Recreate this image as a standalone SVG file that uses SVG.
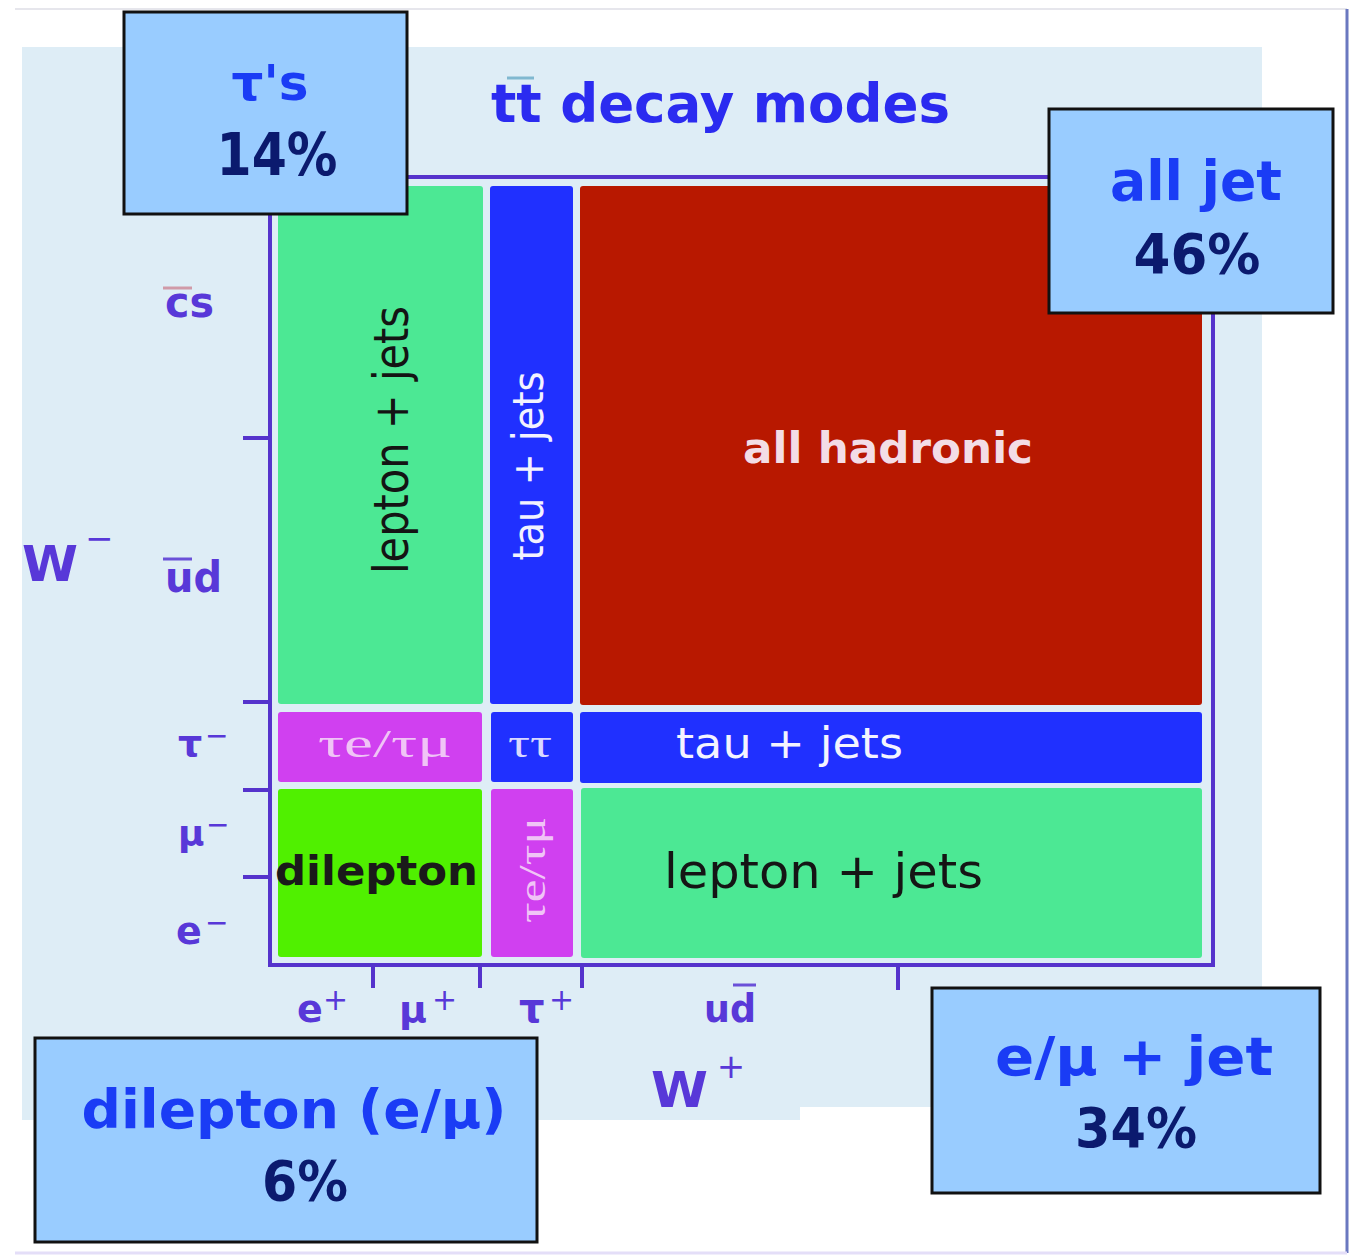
<svg xmlns="http://www.w3.org/2000/svg" width="1353" height="1255" viewBox="0 0 1353 1255">
<style>
.ax{font-family:"DejaVu Sans","Liberation Sans",sans-serif;font-weight:bold;fill:#5838d8}
.axn{font-family:"DejaVu Sans","Liberation Sans",sans-serif;font-weight:normal;fill:#5838d8}
.bx{fill:#99ccff;stroke:#111;stroke-width:3}
.bt{font-family:"DejaVu Sans","Liberation Sans",sans-serif;font-weight:bold;fill:#1a3cf5;text-anchor:middle}
.bp{font-family:"DejaVu Sans","Liberation Sans",sans-serif;font-weight:bold;fill:#0b1a6e;text-anchor:middle}
.cell{font-family:"DejaVu Sans","Liberation Sans",sans-serif}
.sym{font-family:"Liberation Serif","DejaVu Serif",serif}
.tick{stroke:#5533cc;stroke-width:4}
</style>
<rect width="1353" height="1255" fill="#ffffff"/>
<line x1="15" y1="9" x2="1347" y2="9" stroke="#e6e6ec" stroke-width="2"/>
<line x1="1347" y1="9" x2="1347" y2="1253" stroke="#6a78c0" stroke-width="3"/>
<line x1="15" y1="1253" x2="1347" y2="1253" stroke="#e4def8" stroke-width="3"/>
<g id="panel">
<rect x="22" y="47" width="1240" height="1060" fill="#deedf6"/>
<rect x="22" y="1107" width="778" height="13" fill="#deedf6"/>
</g>
<g id="title">
<text x="491" y="122" font-family="DejaVu Sans,Liberation Sans,sans-serif" font-weight="bold" font-size="54" fill="#2b2bf0" textLength="459" lengthAdjust="spacingAndGlyphs">tt decay modes</text>
<line x1="507" y1="78" x2="534" y2="78" stroke="#80b8d0" stroke-width="3"/>
</g>
<g id="frame">
<rect x="270" y="177" width="943" height="788" fill="none" stroke="#5533cc" stroke-width="4"/>
</g>
<g id="connectors">
<line class="tick" x1="243" y1="438" x2="270" y2="438"/>
<line class="tick" x1="243" y1="702" x2="270" y2="702"/>
<line class="tick" x1="243" y1="790" x2="270" y2="790"/>
<line class="tick" x1="243" y1="877" x2="270" y2="877"/>
<line class="tick" x1="373" y1="965" x2="373" y2="988"/>
<line class="tick" x1="480" y1="965" x2="480" y2="988"/>
<line class="tick" x1="582" y1="965" x2="582" y2="988"/>
<line class="tick" x1="898" y1="965" x2="898" y2="990"/>
</g>
<g id="cell-lepton-jets-v">
<rect x="278" y="186" width="205" height="518" rx="3" fill="#4ce894"/>
<text class="cell" transform="rotate(-90 408 440)" x="408" y="440" text-anchor="middle" font-size="48" fill="#141414" textLength="268" lengthAdjust="spacingAndGlyphs">lepton + jets</text>
</g>
<g id="cell-tau-jets-v">
<rect x="490" y="186" width="83" height="518" rx="3" fill="#2030ff"/>
<text class="cell" transform="rotate(-90 543 466)" x="543" y="466" text-anchor="middle" font-size="42" fill="#f2f2ff" textLength="189" lengthAdjust="spacingAndGlyphs">tau + jets</text>
</g>
<g id="cell-all-hadronic">
<rect x="580" y="186" width="622" height="519" rx="3" fill="#b81800"/>
<text class="cell" x="888" y="463" text-anchor="middle" font-size="43" font-weight="bold" fill="#f3dde6" textLength="290" lengthAdjust="spacingAndGlyphs">all hadronic</text>
</g>
<g id="cell-tau-e-mu-h">
<rect x="278" y="712" width="204" height="70" rx="3" fill="#d040f0"/>
<text class="sym" x="318" y="757" font-size="40" fill="#f0c4f6" textLength="134" lengthAdjust="spacingAndGlyphs">τe/τμ</text>
</g>
<g id="cell-tau-tau">
<rect x="491" y="712" width="82" height="70" rx="3" fill="#2030ff"/>
<text class="sym" x="508" y="757" font-size="40" fill="#d8d8ff" textLength="44" lengthAdjust="spacingAndGlyphs">ττ</text>
</g>
<g id="cell-tau-jets-h">
<rect x="580" y="712" width="622" height="71" rx="3" fill="#2030ff"/>
<text class="cell" x="676" y="758" font-size="42" fill="#f4f4ff" textLength="227" lengthAdjust="spacingAndGlyphs">tau + jets</text>
</g>
<g id="cell-dilepton">
<rect x="278" y="789" width="204" height="168" rx="3" fill="#50f000"/>
<text class="cell" x="275" y="885" font-size="40" font-weight="bold" fill="#1a1a1a" textLength="203" lengthAdjust="spacingAndGlyphs">dilepton</text>
</g>
<g id="cell-tau-e-mu-v">
<rect x="491" y="789" width="82" height="168" rx="3" fill="#d040f0"/>
<text class="sym" transform="rotate(-90 545 870)" x="545" y="870" text-anchor="middle" font-size="38" fill="#f0c4f6" textLength="106" lengthAdjust="spacingAndGlyphs">τe/τμ</text>
</g>
<g id="cell-lepton-jets-h">
<rect x="581" y="788" width="621" height="170" rx="3" fill="#4ce894"/>
<text class="cell" x="664" y="888" font-size="48" fill="#151515" textLength="319" lengthAdjust="spacingAndGlyphs">lepton + jets</text>
</g>
<g id="axis-labels">
<text class="ax" x="165" y="317" font-size="42" textLength="49" lengthAdjust="spacingAndGlyphs">cs</text>
<line x1="163" y1="288" x2="192" y2="288" stroke="#d09aa8" stroke-width="3"/>
<text class="ax" x="165" y="592" font-size="42" textLength="57" lengthAdjust="spacingAndGlyphs">ud</text>
<line x1="163" y1="559" x2="192" y2="559" stroke="#6a50d8" stroke-width="3"/>
<text class="ax" x="22" y="581" font-size="50" textLength="56" lengthAdjust="spacingAndGlyphs">W</text>
<text class="axn" x="85" y="550" font-size="34">−</text>
<text class="ax" x="178" y="756" font-size="38">τ</text>
<text class="axn" x="205" y="745" font-size="28">−</text>
<text class="ax" x="178" y="846" font-size="36">μ</text>
<text class="axn" x="206" y="834" font-size="28">−</text>
<text class="ax" x="176" y="944" font-size="38">e</text>
<text class="axn" x="205" y="932" font-size="28">−</text>
<text class="ax" x="297" y="1022" font-size="38">e</text>
<text class="axn" x="323" y="1010" font-size="30">+</text>
<text class="ax" x="399" y="1022" font-size="38">μ</text>
<text class="axn" x="432" y="1010" font-size="30">+</text>
<text class="ax" x="519" y="1022" font-size="40">τ</text>
<text class="axn" x="549" y="1010" font-size="30">+</text>
<text class="ax" x="704" y="1022" font-size="39" textLength="52" lengthAdjust="spacingAndGlyphs">ud</text>
<line x1="733" y1="985" x2="756" y2="985" stroke="#6a50d8" stroke-width="3"/>
<text class="ax" x="651" y="1107" font-size="50" textLength="57" lengthAdjust="spacingAndGlyphs">W</text>
<text class="axn" x="731" y="1078" font-size="34" text-anchor="middle">+</text>
</g>
<g id="box-taus">
<rect class="bx" x="124" y="12" width="283" height="202"/>
<text class="bt" x="270" y="100" font-size="50">τ's</text>
<text class="bp" x="277" y="175" font-size="58" textLength="121" lengthAdjust="spacingAndGlyphs">14%</text>
</g>
<g id="box-all-jet">
<rect class="bx" x="1049" y="109" width="284" height="204"/>
<text class="bt" x="1196" y="200" font-size="56" textLength="172" lengthAdjust="spacingAndGlyphs">all jet</text>
<text class="bp" x="1197" y="273" font-size="56" textLength="127" lengthAdjust="spacingAndGlyphs">46%</text>
</g>
<g id="box-emu-jet">
<rect class="bx" x="932" y="988" width="388" height="205"/>
<text class="bt" x="1134" y="1075" font-size="54" textLength="278" lengthAdjust="spacingAndGlyphs">e/μ + jet</text>
<text class="bp" x="1136" y="1147" font-size="56" textLength="122" lengthAdjust="spacingAndGlyphs">34%</text>
</g>
<g id="box-dilepton">
<rect class="bx" x="35" y="1038" width="502" height="204"/>
<text class="bt" x="294" y="1128" font-size="54" textLength="425" lengthAdjust="spacingAndGlyphs">dilepton (e/μ)</text>
<text class="bp" x="305" y="1200" font-size="56" textLength="86" lengthAdjust="spacingAndGlyphs">6%</text>
</g>
</svg>
